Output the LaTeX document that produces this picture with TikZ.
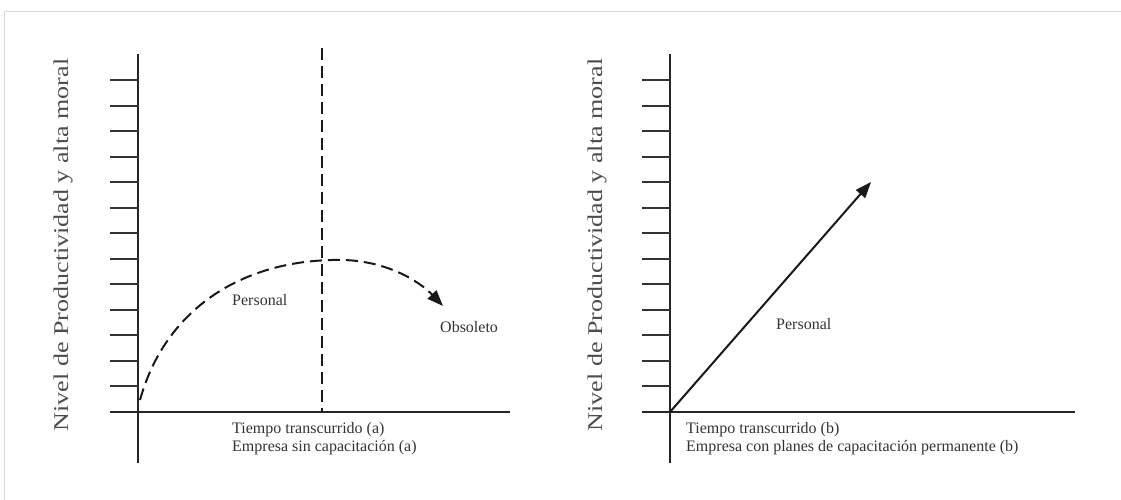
\documentclass[tikz,border=0pt]{standalone}
\usepackage{fontspec}
\setmainfont{Liberation Serif}
\usetikzlibrary{arrows.meta}
\begin{document}
\begin{tikzpicture}[x=1pt,y=-1pt,
  axis/.style={line width=2pt,black!85},
  tickline/.style={line width=2pt,black!80},
  lbl/.style={font=\fontsize{16}{18}\selectfont,text=black!80,inner sep=0pt},
  ylbl/.style={font=\fontsize{21}{24}\selectfont,text=black!70,inner sep=0pt,rotate=90},
  dashline/.style={line width=2pt,black!90,dash pattern=on 12pt off 6pt},
  tip/.style={-{Triangle[length=16pt,width=12pt]}}]
\useasboundingbox (0,0) rectangle (1121,500);
% outer frame
\draw[black!15,line width=1pt] (4.5,500) -- (4.5,11.5) -- (1121,11.5);

% ---------- panel (a) ----------
\coordinate (aTop) at (138,54);
\coordinate (aBot) at (138,463);
\coordinate (aXl) at (110,412);
\coordinate (aXr) at (510,412);
\draw[axis] (aTop) -- (aBot);
\draw[axis] (aXl) -- (aXr);
\foreach \k in {1,...,13}
  \draw[tickline] (110,{412-\k*25.54}) -- (138,{412-\k*25.54});
\coordinate (aCutTop) at (322,48);
\coordinate (aCutBot) at (322,412);
\draw[dashline] (aCutTop) -- (aCutBot);
\coordinate (aStart) at (140,400);
\coordinate (aPeak) at (332,260);
\coordinate (aEnd) at (443,306);
\draw[dashline,tip] (aStart) .. controls (165,310) and (240,262) .. (aPeak)
  .. controls (385,258) and (420,282) .. (aEnd);
\node[ylbl] (aY) at (63,245) {\scalebox{1.24}[1]{Nivel de Productividad y alta moral}};
\node[lbl,anchor=west] (aPers) at (232,300) {Personal};
\node[lbl,anchor=west] (aObs) at (440,327) {Obsoleto};
\node[lbl,anchor=north west,align=left] (aTxt) at (232,422)
  {Tiempo transcurrido (a)\\Empresa sin capacitación (a)};

% ---------- panel (b) ----------
\coordinate (bTop) at (670,54);
\coordinate (bBot) at (670,463);
\coordinate (bXl) at (642,412);
\coordinate (bXr) at (1075,412);
\draw[axis] (bTop) -- (bBot);
\draw[axis] (bXl) -- (bXr);
\foreach \k in {1,...,13}
  \draw[tickline] (642,{412-\k*25.54}) -- (670,{412-\k*25.54});
\coordinate (bO) at (670,412);
\coordinate (bEnd) at (871,182);
\draw[line width=2pt,black!90,tip] (bO) -- (bEnd);
\node[ylbl] (bY) at (597,245) {\scalebox{1.24}[1]{Nivel de Productividad y alta moral}};
\node[lbl,anchor=west] (bPers) at (776,324) {Personal};
\node[lbl,anchor=north west,align=left] (bTxt) at (686,422)
  {Tiempo transcurrido (b)\\Empresa con planes de capacitación permanente (b)};
\end{tikzpicture}
\end{document}
